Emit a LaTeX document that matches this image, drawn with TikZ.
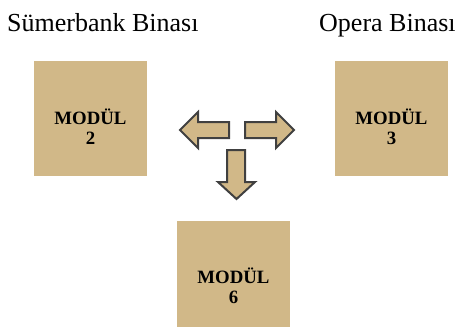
\documentclass[tikz,border=0pt]{standalone}
\usepackage{fontspec}
\setmainfont{Liberation Serif}
\definecolor{tan}{HTML}{D1B888}
\definecolor{edge}{HTML}{404040}
\begin{document}
\begin{tikzpicture}[x=1pt,y=-1pt,
  modbox/.style={fill=tan,draw=none,minimum width=113pt,inner sep=0pt,outer sep=0pt},
  modtext/.style={align=center,font=\fontsize{18.8}{20}\selectfont\bfseries,inner sep=0pt},
  title/.style={anchor=base west,font=\fontsize{26}{30}\selectfont,inner sep=0pt},
  arr/.style={fill=tan,draw=edge,line width=2pt,line join=miter}]
\useasboundingbox (0,0) rectangle (456,327);
\node[title] (t2) at (7,31) {Sümerbank Binası};
\node[title] (t3) at (319,31) {Opera Binası};
\node[modbox,minimum height=115pt] (m2) at (90.5,118.5) {};
\node[modbox,minimum height=115pt] (m3) at (391.5,118.5) {};
\node[modbox,minimum height=106pt] (m6) at (233.5,274) {};
\node[modtext] (l2) at (90.5,126.5) {MODÜL\\2};
\node[modtext] (l3) at (391.5,126.5) {MODÜL\\3};
\node[modtext] (l6) at (233.5,286) {MODÜL\\6};
\draw[arr] (180,130) -- (198,112) -- (198,122) -- (229,122) -- (229,138) -- (198,138) -- (198,148) -- cycle;
\draw[arr] (294,130) -- (276,112) -- (276,122) -- (245,122) -- (245,138) -- (276,138) -- (276,148) -- cycle;
\draw[arr] (236.5,199) -- (218,182) -- (227,182) -- (227,150) -- (245,150) -- (245,182) -- (255,182) -- cycle;
\end{tikzpicture}
\end{document}
